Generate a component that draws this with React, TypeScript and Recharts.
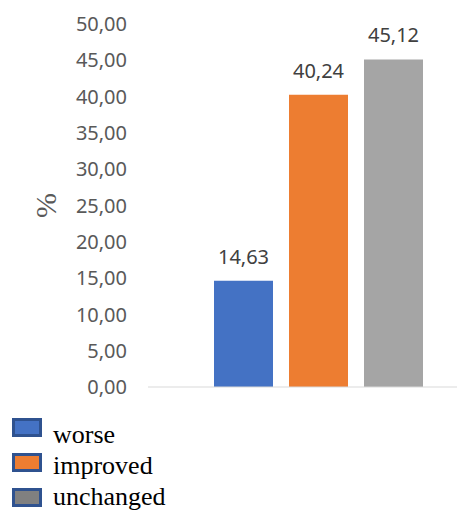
import { Bar, BarChart, XAxis, YAxis, LabelList, ReferenceLine } from "recharts";

const categories = ["worse", "improved", "unchanged"];
const values = [14.63, 40.24, 45.12];
const colors = ["#4472C4", "#ED7D31", "#A5A5A5"];
const legendFills = ["#4472C4", "#ED7D31", "#808080"];
const yTicks = [0, 5, 10, 15, 20, 25, 30, 35, 40, 45, 50];

const fmt = (v: number) => v.toFixed(2).replace(".", ",");

export default function App() {
  const row: Record<string, number | string> = { name: "" };
  categories.forEach((c, i) => (row[c] = values[i]));
  const data = [row];

  return (
    <div
      style={{
        position: "fixed",
        left: 0,
        top: 0,
        width: 457,
        height: 512,
        overflow: "hidden",
        background: "#fff",
      }}
    >
      <BarChart
        width={490}
        height={512}
        data={data}
        margin={{ top: 24, right: 1, left: 0, bottom: 125 }}
        barSize={59}
        barGap={16}
      >
        <XAxis dataKey="name" hide />
        <YAxis
          width={148}
          domain={[0, 50]}
          ticks={yTicks}
          tickFormatter={fmt}
          axisLine={false}
          tickLine={false}
          tickSize={0}
          tickMargin={21}
          interval={0}
          tick={{ fontSize: 20, fill: "#595959", fontFamily: "Noto Sans" }}
          label={{
            value: "%",
            angle: -90,
            position: "center",
            dx: -29,
            fontSize: 30,
            fill: "#595959",
            fontFamily: "Liberation Serif",
          }}
        />
        <ReferenceLine y={0} stroke="#d9d9d9" strokeWidth={1} />
        {categories.map((c, i) => (
          <Bar key={c} dataKey={c} fill={colors[i]} isAnimationActive={false}>
            <LabelList
              dataKey={c}
              position="top"
              offset={17}
              formatter={(v: number) => fmt(v)}
              style={{ fontSize: 20, fill: "#404040", fontFamily: "Noto Sans" }}
            />
          </Bar>
        ))}
      </BarChart>
      {/* legend as in the source image: squares 35px apart, text lines 31px apart */}
      <svg
        width={457}
        height={100}
        style={{ position: "absolute", left: 0, top: 412 }}
      >
        {categories.map((c, i) => (
          <g key={c}>
            <rect
              x={13.5}
              y={7.5 + i * 35}
              width={27}
              height={16}
              fill={legendFills[i]}
              stroke="#2F528F"
              strokeWidth={3}
            />
            <text
              x={53}
              y={31 + i * 31}
              fontFamily="Liberation Serif"
              fontSize={26}
              fill="#000"
            >
              {c}
            </text>
          </g>
        ))}
      </svg>
    </div>
  );
}
